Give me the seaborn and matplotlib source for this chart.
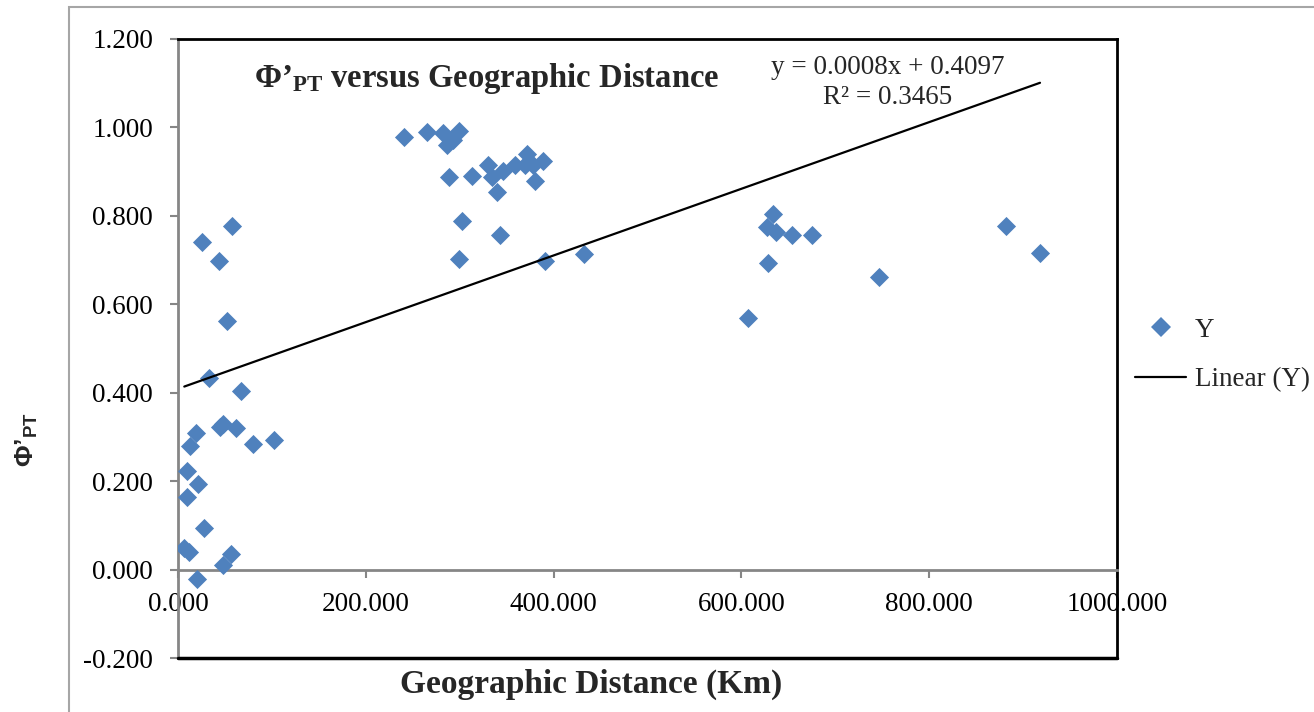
import matplotlib
matplotlib.use("Agg")
import matplotlib.pyplot as plt
import seaborn as sns
from matplotlib.patches import Rectangle
from matplotlib.lines import Line2D

# Pairwise genetic distance (Φ'PT) against geographic distance
distance_km = [
    57.2, 25.2, 44.0, 52.5, 33.3, 66.8, 44.7, 48.3, 61.8, 19.2,
    12.8, 80.2, 102.6, 9.3, 21.6, 9.3, 28.0, 6.7, 11.7, 48.2,
    56.4, 19.9,
    241.0, 265.6, 282.6, 299.7, 286.8, 293.0, 288.6, 312.8, 329.8, 334.0,
    339.4, 346.5, 359.0, 371.4, 369.5, 378.4, 389.0, 380.6, 302.0, 343.0,
    299.6, 390.8, 432.7,
    607.0, 627.3, 633.7, 636.8, 653.9, 675.2, 628.3, 746.5, 881.8, 918.0,
]
phi_pt = [
    0.776, 0.742, 0.698, 0.562, 0.434, 0.404, 0.322, 0.329, 0.321, 0.310,
    0.280, 0.283, 0.293, 0.223, 0.193, 0.165, 0.095, 0.048, 0.040, 0.010,
    0.035, -0.021,
    0.978, 0.989, 0.987, 0.991, 0.961, 0.972, 0.887, 0.891, 0.915, 0.887,
    0.854, 0.902, 0.914, 0.940, 0.915, 0.914, 0.923, 0.878, 0.789, 0.757,
    0.703, 0.699, 0.714,
    0.569, 0.775, 0.805, 0.764, 0.757, 0.757, 0.693, 0.662, 0.777, 0.716,
]
x_ticks = [0, 200, 400, 600, 800, 1000]
x_tick_labels = ["0.000", "200.000", "400.000", "600.000", "800.000", "1000.000"]
y_ticks = [-0.2, 0.0, 0.2, 0.4, 0.6, 0.8, 1.0, 1.2]
y_tick_labels = ["-0.200", "0.000", "0.200", "0.400", "0.600", "0.800", "1.000", "1.200"]
fit_equation = "y = 0.0008x + 0.4097"
fit_r2 = "R² = 0.3465"

sns.set_theme(style="white")
plt.rcParams["font.family"] = ["Liberation Serif", "DejaVu Serif"]
plt.rcParams["mathtext.fontset"] = "custom"
plt.rcParams["mathtext.rm"] = "Liberation Serif"
plt.rcParams["mathtext.bf"] = "Liberation Serif:bold"
plt.rcParams["mathtext.sf"] = "Liberation Sans:bold"

W, H = 1314, 712
fig = plt.figure(figsize=(W / 100, H / 100), dpi=100)
ax = fig.add_axes([178 / W, 1 - 658 / H, (1117 - 178) / W, (658 - 39) / H])

# outer chart frame
fig.patches.append(Rectangle((69 / W, -0.2), 1.2, 1.2 - 7 / H, transform=fig.transFigure,
                             fill=False, edgecolor="#a6a6a6", lw=1.5, zorder=0))

blue = "#4F81BD"
sns.scatterplot(x=distance_km, y=phi_pt, marker="D", s=95, color=blue,
                linewidth=0, ax=ax, zorder=3, legend=False)
sns.regplot(x=distance_km, y=phi_pt, scatter=False, ci=None, truncate=True, ax=ax,
            line_kws=dict(color="black", lw=1.6, zorder=4))

ax.set_xlim(0, 1000)
ax.set_ylim(-0.2, 1.2)
ax.set_xticks(x_ticks)
ax.set_xticklabels(x_tick_labels)
ax.set_yticks(y_ticks)
ax.set_yticklabels(y_tick_labels)
ax.grid(False)

gray = "#868686"
ax.spines["bottom"].set_position(("data", 0))
ax.spines["bottom"].set_color(gray)
ax.spines["left"].set_color(gray)
for side in ("bottom", "left"):
    ax.spines[side].set_linewidth(2)
for side in ("top", "right"):
    ax.spines[side].set_color("black")
    ax.spines[side].set_linewidth(2)
ax.axhline(-0.2, color="black", lw=2.5, clip_on=False, zorder=5)

ax.tick_params(axis="both", direction="out", length=6, width=1.5, color=gray,
               labelsize=19.5, labelcolor="black")
ax.tick_params(axis="x", pad=10, bottom=True)
ax.tick_params(axis="y", pad=12, left=True)

# title and trend-line annotation
fig.text(487 / W, 1 - 79 / H, r"$\mathbf{Φ’_{PT}}$ versus Geographic Distance",
         ha="center", va="center", fontsize=23.5, fontweight="bold")
fig.text(888 / W, 1 - 67 / H, fit_equation, ha="center", va="center", fontsize=19.5)
fig.text(888 / W, 1 - 97 / H, fit_r2, ha="center", va="center", fontsize=19.5)

# axis titles
fig.text(591 / W, 1 - 684 / H, "Geographic Distance (Km)", ha="center", va="center",
         fontsize=24, fontweight="bold")
fig.text(27 / W, 1 - 440 / H, r"$\mathsf{Φ’_{PT}}$", rotation=90, ha="center",
         va="center", fontsize=19)

handles = [
    Line2D([], [], marker="D", color=blue, linestyle="none", markersize=9.7, markeredgewidth=0),
    Line2D([], [], color="black", lw=1.6),
]
fig.legend(handles, ["Y", "Linear (Y)"], loc="center left",
           bbox_to_anchor=(1135 / W, 1 - 355 / H), bbox_transform=fig.transFigure,
           frameon=False, fontsize=19.5, handlelength=1.9, handletextpad=0.3,
           labelspacing=0.9, borderpad=0, borderaxespad=0)

fig.savefig("out.png", dpi=100, facecolor="white")
